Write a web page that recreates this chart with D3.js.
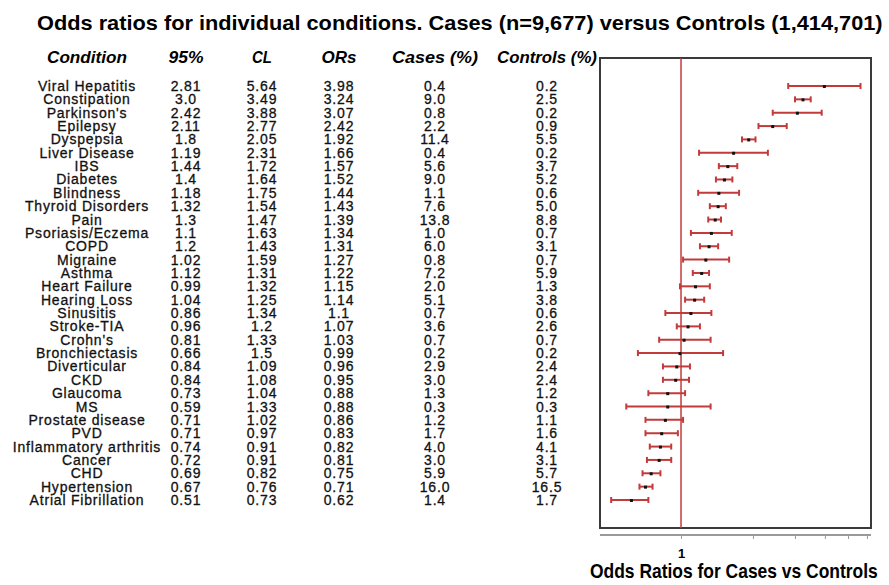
<!DOCTYPE html>
<html>
	<head>
		<meta http-equiv="Content-Type" content="text/html;charset=utf-8"/>
		<title>Odds ratios forest plot</title>
		<script type="text/javascript" src="https://cdn.jsdelivr.net/npm/d3@7"></script>
		<style type="text/css">

			body {
				margin: 0;
				background: #fff;
			}

			.cell {
				font-family: "Liberation Sans", Arial, sans-serif;
				font-size: 14px;
				letter-spacing: 0.8px;
				fill: #111;
				stroke: #111;
				stroke-width: 0.3;
				text-anchor: middle;
			}

			.head {
				font-family: "Liberation Sans", Arial, sans-serif;
				font-size: 17px;
				font-weight: bold;
				font-style: italic;
				fill: #000;
			}

			.ci {
				stroke: #c23b3b;
				stroke-width: 2;
			}

		</style>
	</head>
	<body>
		<script type="text/javascript">

			//Table columns (kept as text so "3.0" stays "3.0")
			var conditions = ["Viral Hepatitis", "Constipation", "Parkinson's", "Epilepsy", "Dyspepsia",
				"Liver Disease", "IBS", "Diabetes", "Blindness", "Thyroid Disorders", "Pain",
				"Psoriasis/Eczema", "COPD", "Migraine", "Asthma", "Heart Failure", "Hearing Loss",
				"Sinusitis", "Stroke-TIA", "Crohn's", "Bronchiectasis", "Diverticular", "CKD",
				"Glaucoma", "MS", "Prostate disease", "PVD", "Inflammatory arthritis", "Cancer",
				"CHD", "Hypertension", "Atrial Fibrillation"];

			var lcl = ["2.81", "3.0", "2.42", "2.11", "1.8", "1.19", "1.44", "1.4", "1.18", "1.32", "1.3",
				"1.1", "1.2", "1.02", "1.12", "0.99", "1.04", "0.86", "0.96", "0.81", "0.66", "0.84",
				"0.84", "0.73", "0.59", "0.71", "0.71", "0.74", "0.72", "0.69", "0.67", "0.51"];

			var ucl = ["5.64", "3.49", "3.88", "2.77", "2.05", "2.31", "1.72", "1.64", "1.75", "1.54", "1.47",
				"1.63", "1.43", "1.59", "1.31", "1.32", "1.25", "1.34", "1.2", "1.33", "1.5", "1.09",
				"1.08", "1.04", "1.33", "1.02", "0.97", "0.91", "0.91", "0.82", "0.76", "0.73"];

			var ors = ["3.98", "3.24", "3.07", "2.42", "1.92", "1.66", "1.57", "1.52", "1.44", "1.43", "1.39",
				"1.34", "1.31", "1.27", "1.22", "1.15", "1.14", "1.1", "1.07", "1.03", "0.99", "0.96",
				"0.95", "0.88", "0.88", "0.86", "0.83", "0.82", "0.81", "0.75", "0.71", "0.62"];

			var casesPct = ["0.4", "9.0", "0.8", "2.2", "11.4", "0.4", "5.6", "9.0", "1.1", "7.6", "13.8",
				"1.0", "6.0", "0.8", "7.2", "2.0", "5.1", "0.7", "3.6", "0.7", "0.2", "2.9",
				"3.0", "1.3", "0.3", "1.2", "1.7", "4.0", "3.0", "5.9", "16.0", "1.4"];

			var controlsPct = ["0.2", "2.5", "0.2", "0.9", "5.5", "0.2", "3.7", "5.2", "0.6", "5.0", "8.8",
				"0.7", "3.1", "0.7", "5.9", "1.3", "3.8", "0.6", "2.6", "0.7", "0.2", "2.4",
				"2.4", "1.2", "0.3", "1.1", "1.6", "4.1", "3.1", "5.7", "16.5", "1.7"];

			var headers = ["Condition", "95%", "CL", "ORs", "Cases (%)", "Controls (%)"];
			var axisTicks = [1, 2, 3, 4, 5, 6];
			var tickLabels = ["1", "", "", "", "", ""];

			var w = 889,
				h = 585;

			var svg = d3.select("body").append("svg")
						.attr("width", w)
						.attr("height", h);

			//Squeeze a text sideways to a given width (condensed look), left edge at x
			function squeeze(sel, x, y, width) {
				var len = sel.node().getComputedTextLength();
				sel.attr("transform", "translate(" + x + "," + y + ") scale(" + (width / len) + ",1)");
			}

			//Row positions shared by table and plot
			var y = d3.scalePoint()
				.domain(conditions)
				.range([86, 500]);

			//Log scale for the odds ratios
			var box = { left: 600, right: 871, top: 58, bottom: 528 };
			var x = d3.scaleLog()
				.domain([0.458, 6.24])
				.range([box.left, box.right]);

			//Title
			svg.append("text")
				.style("font-family", "'Liberation Sans', Arial, sans-serif")
				.style("font-size", "21px")
				.style("font-weight", "bold")
				.text("Odds ratios for individual conditions. Cases (n=9,677) versus Controls (1,414,701)")
				.call(squeeze, 37, 30, 846);

			//Column headers
			var colX = [87, 186, 262, 339, 435, 547];
			var headLen = [80, 35, 20, 35, 86, 100];
			svg.selectAll("text.head")
				.data(headers)
				.enter()
				.append("text")
				.attr("class", "head")
				.text(function(d) { return d; })
				.each(function(d, i) {
					squeeze(d3.select(this), colX[i] - headLen[i] / 2, 63, headLen[i]);
				});

			//Table body, one column at a time
			var columns = [conditions, lcl, ucl, ors, casesPct, controlsPct];
			columns.forEach(function(col, c) {
				svg.append("g")
					.selectAll("text")
					.data(col)
					.enter()
					.append("text")
					.attr("class", "cell")
					.attr("x", colX[c])
					.attr("y", function(d, i) { return y(conditions[i]) + 5; })
					.text(function(d) { return d; });
			});

			//Plot frame
			svg.append("rect")
				.attr("x", box.left)
				.attr("y", box.top)
				.attr("width", box.right - box.left)
				.attr("height", box.bottom - box.top)
				.attr("fill", "none")
				.attr("stroke", "#3a3a3a")
				.attr("stroke-width", 2);

			//Reference line at OR = 1
			svg.append("line")
				.attr("x1", x(1))
				.attr("x2", x(1))
				.attr("y1", box.top)
				.attr("y2", box.bottom)
				.attr("stroke", "#c23b3b")
				.attr("stroke-width", 1.5);

			//Confidence intervals with end caps
			var rows = svg.append("g")
				.selectAll("g")
				.data(conditions)
				.enter()
				.append("g");

			rows.append("line")
				.attr("class", "ci")
				.attr("x1", function(d, i) { return x(+lcl[i]); })
				.attr("x2", function(d, i) { return x(+ucl[i]); })
				.attr("y1", function(d) { return y(d); })
				.attr("y2", function(d) { return y(d); });

			[lcl, ucl].forEach(function(arr) {
				rows.append("line")
					.attr("class", "ci")
					.attr("x1", function(d, i) { return x(+arr[i]); })
					.attr("x2", function(d, i) { return x(+arr[i]); })
					.attr("y1", function(d) { return y(d) - 3; })
					.attr("y2", function(d) { return y(d) + 3; });
			});

			rows.append("rect")
				.attr("x", function(d, i) { return x(+ors[i]) - 1.5; })
				.attr("y", function(d) { return y(d) - 1; })
				.attr("width", 3)
				.attr("height", 3)
				.attr("fill", "#111");

			//Bottom axis
			var axis = svg.append("g")
				.attr("transform", "translate(0,535)")
				.call(d3.axisBottom(x)
					.tickValues(axisTicks)
					.tickSize(4)
					.tickFormat(function(d, i) { return tickLabels[i]; }));

			axis.select(".domain")
				.attr("d", "M" + box.left + ",0H" + box.right)
				.attr("stroke", "#9a9a9a")
				.attr("stroke-width", 2);
			axis.selectAll(".tick line").attr("stroke", "#9a9a9a");
			axis.selectAll(".tick text")
				.attr("y", 14)
				.style("font-family", "'Liberation Sans', Arial, sans-serif")
				.style("font-size", "13px")
				.style("font-weight", "bold")
				.attr("fill", "#000");

			svg.append("text")
				.style("font-family", "'Liberation Sans', Arial, sans-serif")
				.style("font-size", "20px")
				.style("font-weight", "bold")
				.text("Odds Ratios for Cases vs Controls")
				.call(squeeze, 590, 578, 288);

		</script>
	</body>
</html>
